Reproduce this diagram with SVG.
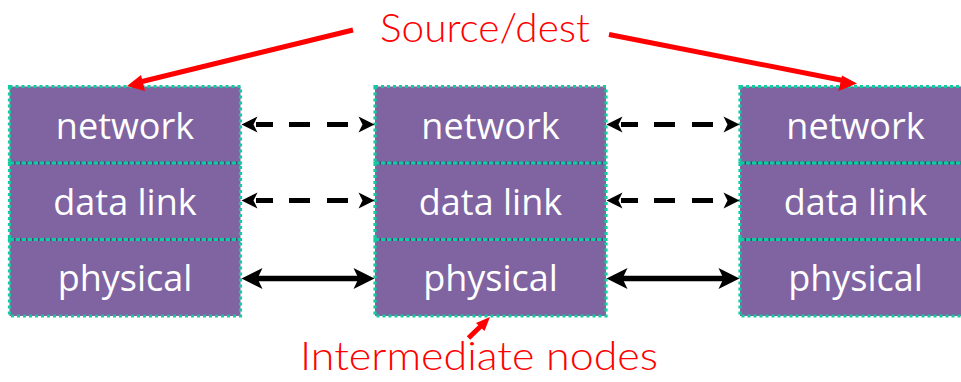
<svg xmlns="http://www.w3.org/2000/svg" width="961" height="382" viewBox="0 0 961 382">
<style>
.row{fill:#8064A2}
.edge{fill:none;stroke:#10CCA0;stroke-width:3.2;stroke-dasharray:3 3}
.div{stroke:#4E3F7A;stroke-width:3}
.lbl{font-family:"Open Sans","Noto Sans","Liberation Sans",sans-serif;font-size:36px;fill:#FFFFFF;text-anchor:middle}
.note{font-family:"Lato","Open Sans","Liberation Sans",sans-serif;font-weight:300;font-size:40px;fill:#FF0000}
.dash{stroke:#000;stroke-width:5;fill:none}
.solid{stroke:#000;stroke-width:5.5;fill:none}
.red{stroke:#FF0000;stroke-width:5;fill:none}
</style>
<defs>
<path id="hl" d="M0,0 L16,-8 L12,0 L16,8 Z" fill="#000"/>
<path id="hr" d="M0,0 L-16,-8 L-12,0 L-16,8 Z" fill="#000"/>
<path id="bl" d="M0,0 L21,-10.5 L16,0 L21,10.5 Z" fill="#000"/>
<path id="br" d="M0,0 L-21,-10.5 L-16,0 L-21,10.5 Z" fill="#000"/>
</defs>

<g id="stack-left">
 <g id="left-network"><rect class="row" x="9.5" y="86.5" width="231" height="76.5"/><text class="lbl" x="125" y="139">network</text></g>
 <g id="left-datalink"><rect class="row" x="9.5" y="163" width="231" height="76.5"/><text class="lbl" x="125" y="215">data link</text></g>
 <g id="left-physical"><rect class="row" x="9.5" y="239.5" width="231" height="76.5"/><text class="lbl" x="125" y="291">physical</text></g>
 <line class="div" x1="9.5" y1="163" x2="240.5" y2="163"/><line class="div" x1="9.5" y1="239.5" x2="240.5" y2="239.5"/>
 <rect class="edge" x="9.5" y="86.5" width="231" height="76.5"/><rect class="edge" x="9.5" y="163" width="231" height="76.5"/><rect class="edge" x="9.5" y="239.5" width="231" height="76.5"/>
</g>

<g id="stack-middle">
 <g id="mid-network"><rect class="row" x="375" y="86.5" width="231" height="76.5"/><text class="lbl" x="490.5" y="139">network</text></g>
 <g id="mid-datalink"><rect class="row" x="375" y="163" width="231" height="76.5"/><text class="lbl" x="490.5" y="215">data link</text></g>
 <g id="mid-physical"><rect class="row" x="375" y="239.5" width="231" height="76.5"/><text class="lbl" x="490.5" y="291">physical</text></g>
 <line class="div" x1="375" y1="163" x2="606" y2="163"/><line class="div" x1="375" y1="239.5" x2="606" y2="239.5"/>
 <rect class="edge" x="375" y="86.5" width="231" height="76.5"/><rect class="edge" x="375" y="163" width="231" height="76.5"/><rect class="edge" x="375" y="239.5" width="231" height="76.5"/>
</g>

<g id="stack-right">
 <g id="right-network"><rect class="row" x="740" y="86.5" width="231" height="76.5"/><text class="lbl" x="855.5" y="139">network</text></g>
 <g id="right-datalink"><rect class="row" x="740" y="163" width="231" height="76.5"/><text class="lbl" x="855.5" y="215">data link</text></g>
 <g id="right-physical"><rect class="row" x="740" y="239.5" width="231" height="76.5"/><text class="lbl" x="855.5" y="291">physical</text></g>
 <line class="div" x1="740" y1="163" x2="971" y2="163"/><line class="div" x1="740" y1="239.5" x2="971" y2="239.5"/>
 <rect class="edge" x="740" y="86.5" width="231" height="76.5"/><rect class="edge" x="740" y="163" width="231" height="76.5"/><rect class="edge" x="740" y="239.5" width="231" height="76.5"/>
</g>

<g id="connectors">
 <line class="dash" x1="256" y1="124.5" x2="360" y2="124.5" stroke-dasharray="17 16 21 17 21"/>
 <use href="#hl" x="241.5" y="124.5"/><use href="#hr" x="374.5" y="124.5"/>
 <line class="dash" x1="256" y1="200.5" x2="360" y2="200.5" stroke-dasharray="17 16 21 17 21"/>
 <use href="#hl" x="241.5" y="200.5"/><use href="#hr" x="374.5" y="200.5"/>
 <line class="solid" x1="256" y1="278.5" x2="360" y2="278.5"/>
 <use href="#bl" x="241.5" y="278.5"/><use href="#br" x="374.5" y="278.5"/>

 <line class="dash" x1="621" y1="124.5" x2="725" y2="124.5" stroke-dasharray="17 16 21 17 21"/>
 <use href="#hl" x="606.5" y="124.5"/><use href="#hr" x="739.5" y="124.5"/>
 <line class="dash" x1="621" y1="200.5" x2="725" y2="200.5" stroke-dasharray="17 16 21 17 21"/>
 <use href="#hl" x="606.5" y="200.5"/><use href="#hr" x="739.5" y="200.5"/>
 <line class="solid" x1="621" y1="278.5" x2="725" y2="278.5"/>
 <use href="#bl" x="606.5" y="278.5"/><use href="#br" x="739.5" y="278.5"/>

 <line class="red" x1="353" y1="30" x2="140" y2="82"/>
 <path d="M127,86 L141,75 L145,91 Z" fill="#FF0000"/>
 <line class="red" x1="609" y1="34.5" x2="843" y2="80.5"/>
 <path d="M857,83.5 L842,75.5 L838.5,91 Z" fill="#FF0000"/>
 <line class="red" x1="468.5" y1="338" x2="482" y2="325" stroke-width="4.5"/>
 <path d="M490,317 L476,323 L484.5,331 Z" fill="#FF0000"/>
</g>

<text class="note" x="380" y="42" textLength="210" lengthAdjust="spacingAndGlyphs">Source/dest</text>
<text class="note" x="300" y="370" font-size="36" textLength="358" lengthAdjust="spacingAndGlyphs">Intermediate nodes</text>
</svg>
